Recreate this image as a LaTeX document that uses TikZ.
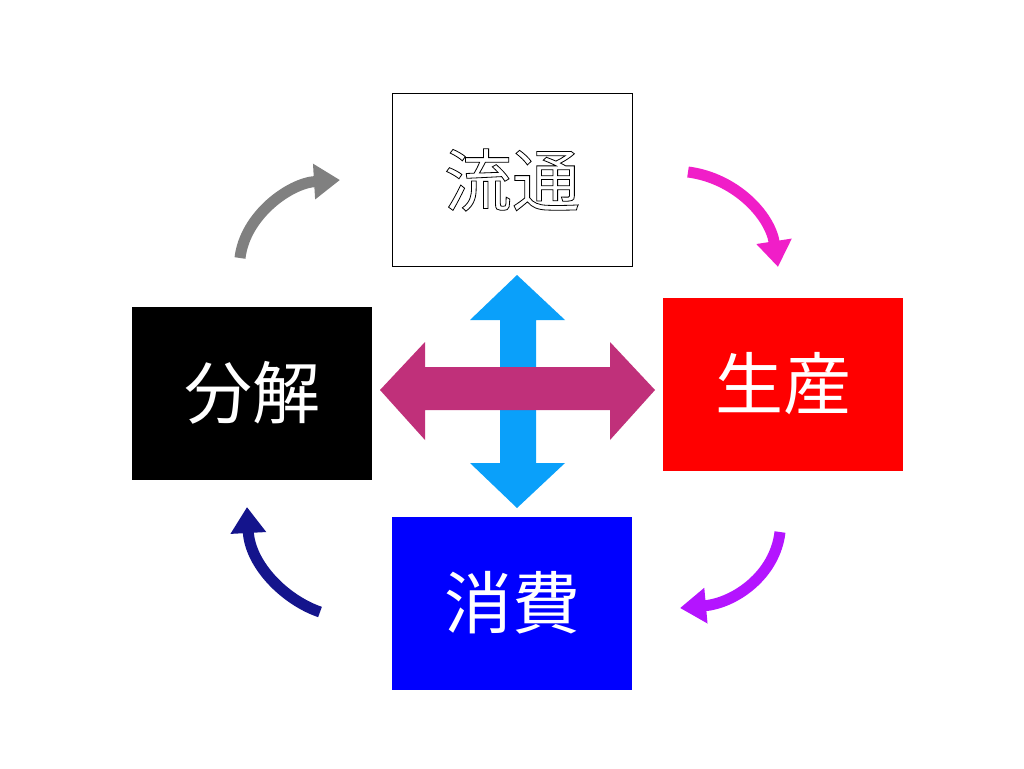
\documentclass[tikz,border=0pt]{standalone}
\usepackage{fontspec}
\newfontfamily\cjk{Noto Sans CJK JP}
\usetikzlibrary{arrows.meta}
\definecolor{skyb}{RGB}{10,160,250}
\definecolor{mag}{RGB}{192,48,122}
\definecolor{pinkm}{RGB}{240,30,200}
\definecolor{purp}{RGB}{180,20,255}
\definecolor{navy2}{RGB}{20,20,140}
\newcommand{\outl}[1]{\special{pdf:literal direct 1 Tr 0.8 w}#1\special{pdf:literal direct 0 Tr}}
\begin{document}
\begin{tikzpicture}[x=1pt,y=-1pt,
 box/.style={draw=none,minimum width=240pt,minimum height=173pt,inner sep=0pt,font=\cjk\fontsize{68}{72}\selectfont,text=white},
 cur/.style={line width=11pt,-{Triangle[length=26pt,width=34pt]}}]
\useasboundingbox (0,0) rectangle (1024,768);
\fill[white] (0,0) rectangle (1024,768);
\node[box,fill=white,draw=black,line width=0.8pt,text=black] (ryu) at (512,180) {\outl{流通}};
\node[box,fill=red] (sei) at (783,384) {生産};
\node[box,fill=black] (bun) at (252,393) {分解};
\node[box,fill=blue] (sho) at (512,603) {消費};
\fill[skyb] (517,275) -- (565,320) -- (536,320) -- (536,463) -- (565,463) -- (517,508) -- (470,463) -- (500,463) -- (500,320) -- (470,320) -- cycle;
\fill[mag] (380,390) -- (425,342) -- (425,367) -- (610,367) -- (610,342) -- (655,390) -- (610,440) -- (610,410) -- (425,410) -- (425,440) -- cycle;
\coordinate (g1) at (240,258); \coordinate (g2) at (340,180);
\draw[cur,gray] (g1) .. controls (245,215) and (290,183) .. (g2);
\coordinate (p1) at (688,172); \coordinate (p2) at (778,267);
\draw[cur,pinkm] (p1) .. controls (735,178) and (770,215) .. (p2);
\coordinate (q1) at (780,532); \coordinate (q2) at (680,608);
\draw[cur,purp] (q1) .. controls (775,575) and (735,603) .. (q2);
\coordinate (n1) at (320,612); \coordinate (n2) at (247,507);
\draw[cur,navy2] (n1) .. controls (285,600) and (250,565) .. (n2);
\end{tikzpicture}
\end{document}
